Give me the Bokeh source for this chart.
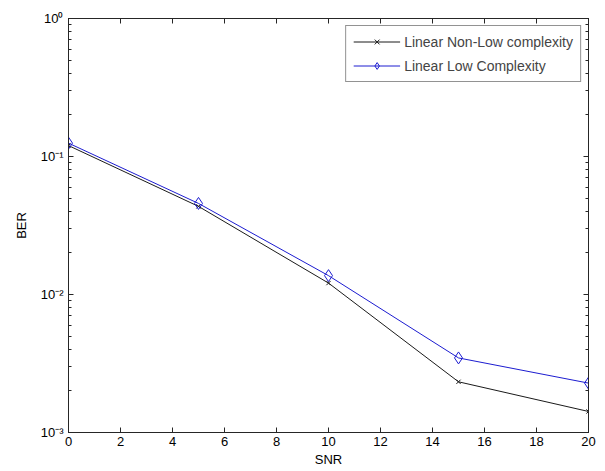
from bokeh.plotting import figure
from bokeh.models import (LinearAxis, LogAxis, LogTicker, FixedTicker, CustomJSTickFormatter,
                          Legend, LegendItem, Range1d, CustomLabelingPolicy)
from bokeh.embed import file_html
from bokeh.resources import INLINE

snr = [0, 5, 10, 15, 20]
ber_nonlow = [0.120, 0.0435, 0.0121, 0.00233, 0.00142]
ber_low = [0.125, 0.0457, 0.0137, 0.00347, 0.00228]
x_ticks = [0, 2, 4, 6, 8, 10, 12, 14, 16, 18, 20]
name_nonlow = "Linear Non-Low complexity"
name_low = "Linear Low Complexity"

FONT = "Liberation Sans"
AX = "#262626"

p = figure(width=597, height=469, y_axis_type="log",
           x_range=Range1d(0, 20), y_range=Range1d(1e-3, 1),
           output_backend="svg", toolbar_location=None,
           min_border_left=68, min_border_right=9, min_border_top=18, min_border_bottom=37)
p.background_fill_color = "white"
p.border_fill_color = "white"
p.outline_line_color = AX
p.outline_line_width = 1
p.grid.visible = False

sup = CustomJSTickFormatter(code="""
const m = {'-':'\u207b','0':'\u2070','1':'\u00b9','2':'\u00b2','3':'\u00b3','4':'\u2074','5':'\u2075','6':'\u2076','7':'\u2077','8':'\u2078','9':'\u2079'};
const e = Math.round(Math.log10(tick));
return '10' + String(e).split('').map(c => m[c]).join('');
""")

blank = CustomJSTickFormatter(code="return '';")

hide = CustomLabelingPolicy(code="""
const all = Array.from(indices);
for (const i of all) { indices.unset(i); }
return indices;
""")

def style(ax, labels=True):
    ax.major_tick_in = 5
    ax.major_tick_out = 0
    ax.minor_tick_in = 3
    ax.minor_tick_out = 0
    ax.axis_line_color = AX
    ax.major_tick_line_color = AX
    ax.minor_tick_line_color = AX
    ax.major_label_text_font = FONT
    ax.major_label_text_font_size = "13px"
    ax.major_label_text_color = "black"
    ax.axis_label_text_font = FONT
    ax.axis_label_text_font_size = "13px"
    ax.axis_label_text_font_style = "normal"
    ax.axis_label_text_color = "black"
    if not labels:
        ax.formatter = blank
        ax.major_label_policy = hide
        ax.major_label_text_font_size = "1px"
        ax.major_label_standoff = 0

xa = p.xaxis[0]
xa.ticker = FixedTicker(ticks=x_ticks, minor_ticks=[])
xa.axis_label = "SNR"
style(xa)
xa.axis_label_standoff = 3
xa.major_label_standoff = 4

ya = p.yaxis[0]
ya.ticker = LogTicker(num_minor_ticks=10)
ya.formatter = sup
ya.axis_label = "BER"
style(ya)
ya.axis_label_standoff = 9
ya.major_label_standoff = 5

top = LinearAxis(ticker=FixedTicker(ticks=x_ticks, minor_ticks=[]))
style(top, labels=False)
p.add_layout(top, "above")
right = LogAxis(ticker=LogTicker(num_minor_ticks=10))
style(right, labels=False)
p.add_layout(right, "right")

BLK = "#1a1a1a"
BLU = "#1c1cd0"
l1 = p.line(snr, ber_nonlow, line_color=BLK, line_width=1)
m1 = p.scatter(snr, ber_nonlow, marker="x", size=6, line_color=BLK, line_width=1)
l2 = p.line(snr, ber_low, line_color=BLU, line_width=1)
m2 = p.scatter(snr, ber_low, marker="diamond", size=12, line_color=BLU, fill_color=None, line_width=1)

leg = Legend(items=[LegendItem(label=name_nonlow, renderers=[l1, m1]),
                    LegendItem(label=name_low, renderers=[l2, m2])],
             location="top_right")
leg.label_text_font = FONT
leg.label_text_font_size = "14px"
leg.border_line_color = AX
leg.border_line_width = 1
leg.glyph_width = 47
leg.glyph_height = 17
leg.label_height = 17
leg.spacing = 7
leg.padding = 7
leg.margin = 7
leg.label_standoff = 4
leg.background_fill_alpha = 1
p.add_layout(leg, "center")

open("out.html", "w").write(file_html(p, INLINE))
